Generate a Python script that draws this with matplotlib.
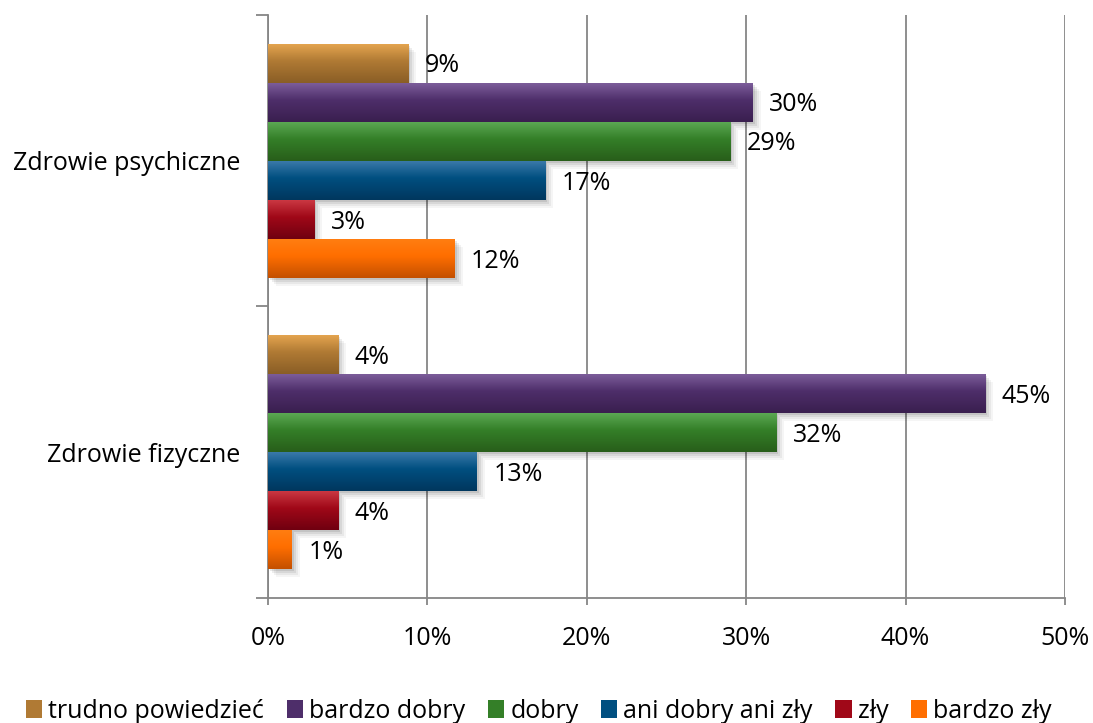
import numpy as np
import matplotlib.pyplot as plt
import matplotlib.transforms as mtransforms
from matplotlib.colors import LinearSegmentedColormap
from matplotlib.patches import Patch, Rectangle

plt.rcParams['font.family'] = ['Open Sans', 'DejaVu Sans']

categories = ['Zdrowie fizyczne', 'Zdrowie psychiczne']
series = ['trudno powiedzieć', 'bardzo dobry', 'dobry', 'ani dobry ani zły', 'zły', 'bardzo zły']
fizyczne = [4.4, 45.0, 31.9, 13.1, 4.4, 1.5]
psychiczne = [8.8, 30.4, 29.0, 17.4, 2.9, 11.7]
labels_fiz = ['4%', '45%', '32%', '13%', '4%', '1%']
labels_psych = ['9%', '30%', '29%', '17%', '3%', '12%']

top_colors = ['#E6A650', '#7E5F9C', '#5DAA55', '#3D7BAB', '#CC3A44', '#FF7E12']
mid_colors = ['#B07A34', '#4E2E6A', '#347F28', '#004F80', '#A00818', '#FF6E00']
bot_colors = ['#8A5E26', '#3A1F4F', '#285E1A', '#00375E', '#700010', '#C45000']

fig = plt.figure(figsize=(10.93, 7.23), dpi=100)
ax = fig.add_axes([0.2452, 0.1729, 0.7292, 0.8064])

h = 0.1338
grad = np.linspace(0, 1, 64).reshape(-1, 1)

def draw_group(center, values, labels):
    for i, v in enumerate(values):
        y = center + (2.5 - i) * h
        # soft shadow down-right
        for k, a in [(8, 0.04), (6, 0.05), (4, 0.07), (2, 0.09)]:
            off = mtransforms.ScaledTranslation(k / 100, -k / 100, fig.dpi_scale_trans)
            sh = Rectangle((0, y - h / 2), v, h, facecolor='black', edgecolor='none', alpha=a,
                           transform=ax.transData + off, zorder=2)
            ax.add_patch(sh)
        bar = ax.barh(y, v, height=h, color='none', edgecolor='none', zorder=3)[0]
        cmap = LinearSegmentedColormap.from_list('g', [(0, top_colors[i]), (0.45, mid_colors[i]), (1, bot_colors[i])])
        im = ax.imshow(grad, cmap=cmap, aspect='auto', extent=[0, v, y - h / 2, y + h / 2],
                       origin='upper', zorder=3)
        im.set_clip_path(bar)
        ax.annotate(labels[i], (v, y), xytext=(12, -2), textcoords='offset points',
                    ha='left', va='center', fontsize=18, color='black', zorder=4)

draw_group(0.5, fizyczne, labels_fiz)
draw_group(1.5, psychiczne, labels_psych)

ax.set_xlim(0, 50)
ax.set_ylim(0, 2)
ax.set_xticks(np.arange(0, 51, 10))
ax.set_xticklabels([f'{t}%' for t in range(0, 51, 10)], fontsize=18)
ax.set_yticks([0, 1, 2])
ax.set_yticklabels([])
ax.set_yticks([0.5, 1.5], minor=True)
ax.set_yticklabels(categories, minor=True, fontsize=18)
ax.tick_params(axis='y', which='minor', length=0, pad=20)
ax.tick_params(axis='y', which='major', length=9, color='#868686', width=1.3)
ax.tick_params(axis='x', length=5, color='#868686', width=1.3, pad=15)
ax.grid(axis='x', color='#868686', linewidth=1.3, zorder=0)
ax.set_axisbelow(True)
for s in ['top', 'right']:
    ax.spines[s].set_visible(False)
for s in ['left', 'bottom']:
    ax.spines[s].set_color('#868686')
    ax.spines[s].set_linewidth(1.3)

handles = [Patch(facecolor=mid_colors[i], edgecolor='none') for i in range(len(series))]
fig.legend(handles, series, loc='center', bbox_to_anchor=(0.493, 0.016), ncol=6, frameon=False,
           fontsize=18, handlelength=0.65, handleheight=0.7, handletextpad=0.25, columnspacing=0.9)

fig.savefig('out.png', dpi=100)
